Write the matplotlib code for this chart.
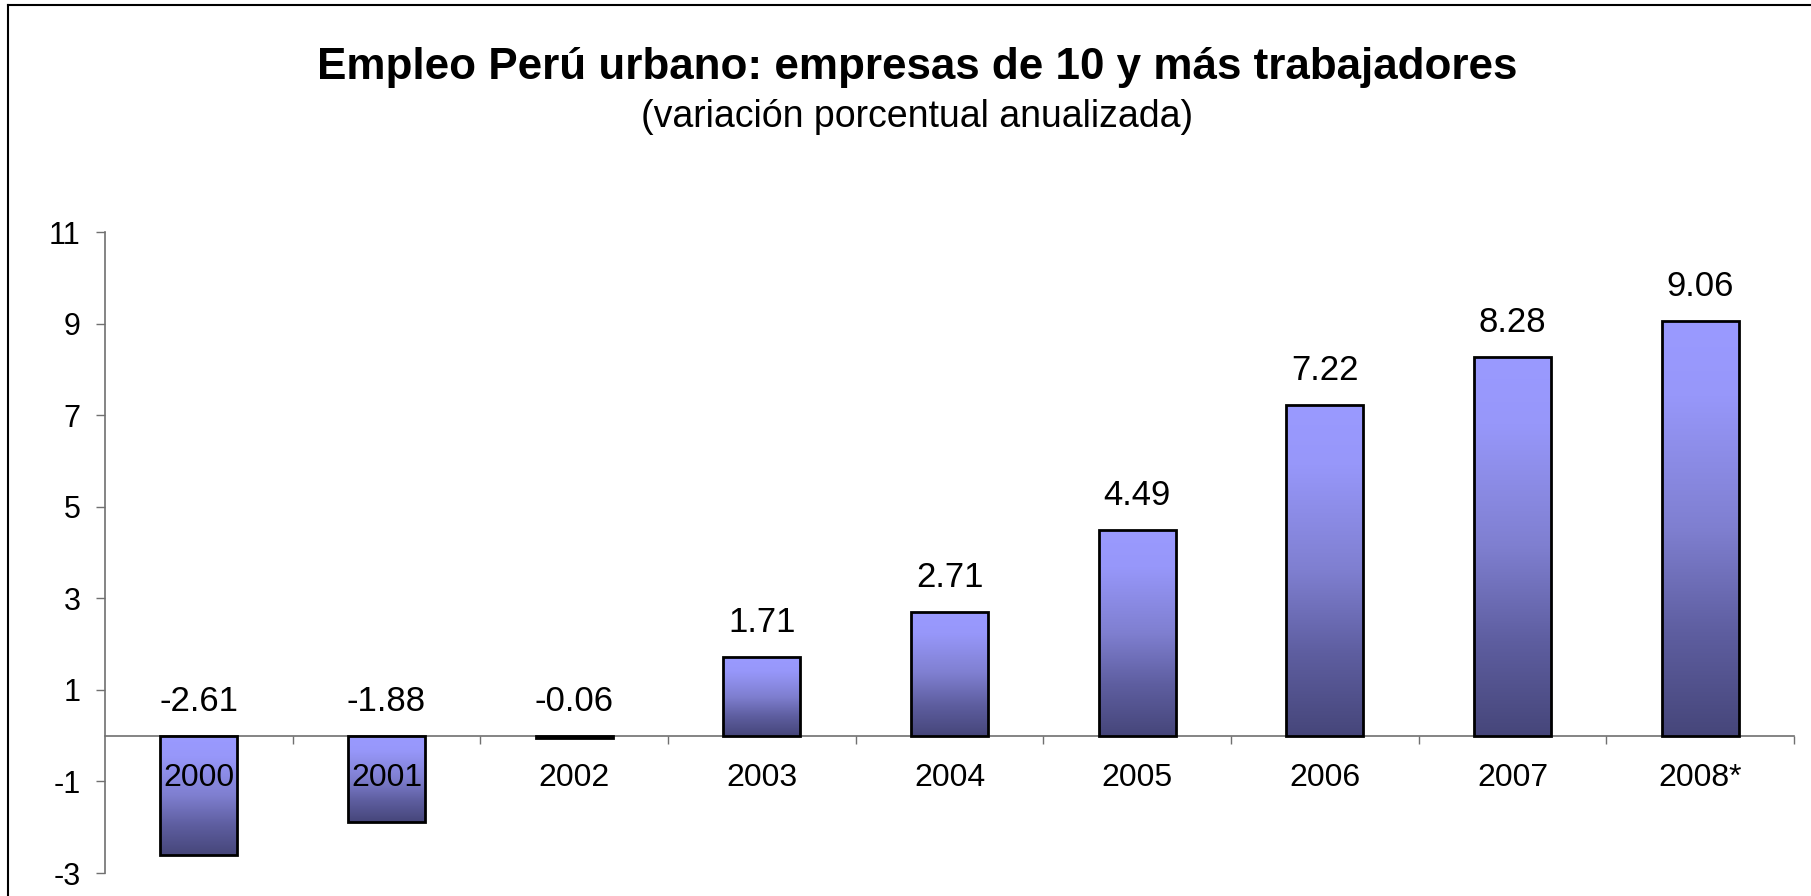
import numpy as np
import matplotlib
matplotlib.use("Agg")
import matplotlib.pyplot as plt
from matplotlib.colors import LinearSegmentedColormap
from matplotlib.lines import Line2D

categories = ["2000", "2001", "2002", "2003", "2004", "2005", "2006", "2007", "2008*"]
values = [-2.61, -1.88, -0.06, 1.71, 2.71, 4.49, 7.22, 8.28, 9.06]
yticks = [-3, -1, 1, 3, 5, 7, 9, 11]
title = "Empleo Perú urbano: empresas de 10 y más trabajadores"
subtitle = "(variación porcentual anualizada)"

plt.rcParams['font.family'] = ['Liberation Sans', 'DejaVu Sans']

W, H = 1811, 896
fig = plt.figure(figsize=(W / 100, H / 100), dpi=100)
ax = fig.add_axes([105 / W, (H - 873) / H, (1794 - 105) / W, (873 - 232) / H])

cmap = LinearSegmentedColormap.from_list(
    "barfill",
    [(0.0, "#9a9aff"), (0.18, "#9797fa"), (0.5, "#7f7fd0"),
     (0.75, "#5e5ea0"), (1.0, "#46467a")])

x = np.arange(len(categories))
bars = ax.bar(x, values, width=0.41, facecolor="none", edgecolor="black",
              linewidth=2.0, zorder=3)
grad = np.linspace(0, 1, 256).reshape(-1, 1)
for b in bars:
    x0, y0 = b.get_x(), b.get_y()
    w, h = b.get_width(), b.get_height()
    top, bot = max(y0, y0 + h), min(y0, y0 + h)
    im = ax.imshow(grad, cmap=cmap, aspect="auto",
                   extent=(x0, x0 + w, bot, top), origin="upper",
                   interpolation="bicubic", zorder=2)
    im.set_clip_path(b)

for xi, v in zip(x, values):
    base = max(v, 0)
    ax.annotate(f"{v:.2f}", (xi, base), xytext=(0, 18),
                textcoords="offset points", ha="center", va="baseline",
                fontsize=25, color="black")

ax.set_xlim(-0.5, len(categories) - 0.5)
ax.set_ylim(-3, 11)
ax.set_yticks(yticks)
ax.set_yticklabels([str(t) for t in yticks])
ax.set_xticks(x)
ax.set_xticklabels(categories)
ax.set_xticks(np.arange(0.5, len(categories) + 0.5, 1.0), minor=True)

for s in ["top", "right"]:
    ax.spines[s].set_visible(False)
ax.spines["bottom"].set_position(("data", 0))
ax.spines["bottom"].set_color("#707070")
ax.spines["left"].set_color("#707070")
ax.spines["bottom"].set_linewidth(1.2)
ax.spines["left"].set_linewidth(1.2)
ax.spines["bottom"].set_zorder(1)

ax.tick_params(axis="y", direction="out", length=6.5, width=1.0,
               color="#707070", pad=11, labelsize=22)
ax.tick_params(axis="x", which="major", length=0, pad=20, labelsize=23)
ax.tick_params(axis="x", which="minor", direction="out", length=6,
               width=1.0, color="#707070")
ax.xaxis.set_zorder(5)
ax.patch.set_visible(False)

fig.text(917 / W, 1 - 79 / H, title, ha="center", va="baseline",
         fontsize=31.7, fontweight="bold")
fig.text(917 / W, 1 - 127 / H, subtitle, ha="center", va="baseline",
         fontsize=27)

fig.add_artist(Line2D([8 / W, 1.0], [1 - 5 / H, 1 - 5 / H], color="black",
                      linewidth=1.5, transform=fig.transFigure))
fig.add_artist(Line2D([8 / W, 8 / W], [0, 1 - 5 / H], color="black",
                      linewidth=1.5, transform=fig.transFigure))

fig.savefig("out.png", dpi=100)
